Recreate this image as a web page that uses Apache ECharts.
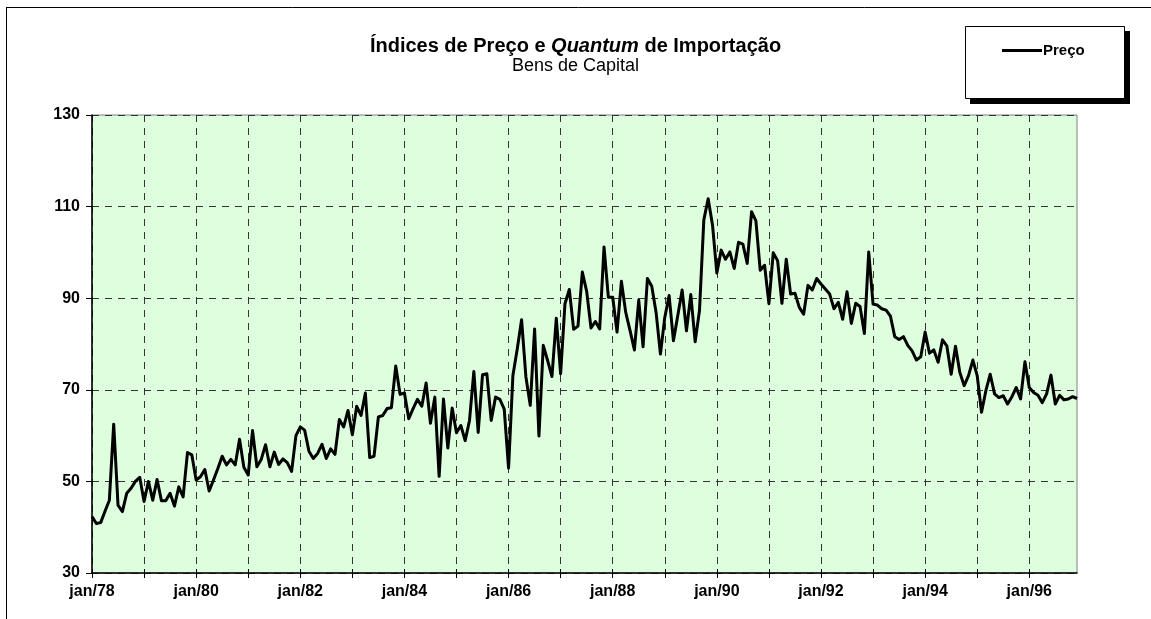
<!DOCTYPE html>
<html>
<head>
<meta charset="utf-8">
<script src="https://cdn.jsdelivr.net/npm/echarts@6/dist/echarts.min.js"></script>
<style>
  html, body { margin: 0; padding: 0; background: #fff; }
  #chart { width: 1151px; height: 619px; }
</style>
</head>
<body>
<div id="chart"></div>
<script>
// meses e anos do eixo x
var meses = ['jan', 'fev', 'mar', 'abr', 'mai', 'jun', 'jul', 'ago', 'set', 'out', 'nov', 'dez'];
var anos = ['78', '79', '80', '81', '82', '83', '84', '85', '86', '87', '88', '89', '90', '91', '92', '93', '94', '95', '96'];

// índice de preço, um vetor por ano (jan..dez)
var p1978 = [42.3, 40.8, 41.0, 43.5, 45.9, 62.5, 44.8, 43.4, 47.4, 48.5, 50.0, 50.9];
var p1979 = [45.6, 50.0, 45.9, 50.4, 45.8, 45.8, 47.4, 44.6, 48.8, 46.6, 56.3, 55.8];
var p1980 = [50.3, 51.0, 52.6, 47.9, 50.3, 52.8, 55.5, 53.6, 54.8, 53.6, 59.2, 53.1];
var p1981 = [51.4, 61.1, 53.2, 54.8, 58.0, 53.2, 56.4, 53.7, 54.9, 54.1, 52.2, 60.0];
var p1982 = [61.9, 61.2, 56.6, 55.0, 56.1, 58.1, 55.0, 57.1, 55.9, 63.5, 61.9, 65.5];
var p1983 = [60.2, 66.4, 64.4, 69.3, 55.2, 55.5, 64.1, 64.4, 65.9, 66.1, 75.2, 69.0];
var p1984 = [69.3, 63.7, 65.9, 67.9, 66.4, 71.5, 62.7, 68.4, 51.1, 68.0, 57.3, 66.0];
var p1985 = [60.6, 62.2, 58.9, 63.3, 74.0, 60.7, 73.3, 73.5, 63.3, 68.4, 67.9, 65.8];
var p1986 = [52.9, 73.1, 78.9, 85.3, 72.8, 66.6, 83.3, 59.9, 79.7, 76.4, 72.9, 85.6];
var p1987 = [73.5, 88.8, 91.9, 83.2, 83.9, 95.7, 91.5, 83.5, 84.9, 83.3, 101.2, 90.2];
var p1988 = [90.2, 82.6, 93.7, 86.9, 82.9, 78.7, 89.6, 79.4, 94.3, 92.6, 86.9, 77.8];
var p1989 = [85.8, 90.6, 80.7, 86.2, 91.8, 82.9, 90.8, 80.5, 87.3, 107.1, 111.7, 106.0];
var p1990 = [95.5, 100.5, 98.5, 100.1, 96.5, 102.2, 101.8, 97.6, 108.9, 106.9, 96.1, 97.2];
var p1991 = [88.8, 99.9, 98.2, 88.9, 98.5, 90.9, 91.1, 88.0, 86.5, 92.8, 91.8, 94.3];
var p1992 = [93.1, 92.0, 90.9, 87.7, 89.1, 85.4, 91.4, 84.5, 88.9, 88.2, 82.3, 100.1];
var p1993 = [88.7, 88.5, 87.7, 87.4, 86.1, 81.6, 81.0, 81.6, 79.7, 78.5, 76.5, 77.2];
var p1994 = [82.6, 78.0, 78.7, 76.0, 80.9, 79.6, 73.4, 79.5, 73.8, 70.9, 73.1, 76.5];
var p1995 = [73.1, 65.1, 69.8, 73.4, 69.1, 68.3, 68.7, 66.9, 68.5, 70.5, 68.0, 76.1];
var p1996 = [70.5, 69.4, 68.8, 67.2, 69.1, 73.2, 66.9, 68.8, 67.8, 68.0, 68.5, 68.1];

var yTicks = [30, 50, 70, 90, 110, 130];

var preco = [].concat(p1978, p1979, p1980, p1981, p1982, p1983, p1984, p1985, p1986,
    p1987, p1988, p1989, p1990, p1991, p1992, p1993, p1994, p1995, p1996);

var categorias = [];
for (var a = 0; a < anos.length; a++) {
    for (var m = 0; m < meses.length; m++) {
        categorias.push(meses[m] + '/' + anos[a]);
    }
}

var fonte = '"Liberation Sans", Arial, sans-serif';
var chart = echarts.init(document.getElementById('chart'));

var option = {
    backgroundColor: '#ffffff',
    animation: false,
    textStyle: { fontFamily: fonte, color: '#000' },
    title: {
        left: 'center',
        top: 31,
        itemGap: 1,
        text: '{b|Índices de Preço e }{bi|Quantum}{b| de Importação}',
        textStyle: {
            rich: {
                b: { fontFamily: fonte, fontSize: 20, fontWeight: 'bold', color: '#000' },
                bi: { fontFamily: fonte, fontSize: 20, fontWeight: 'bold', fontStyle: 'italic', color: '#000' }
            }
        },
        subtext: 'Bens de Capital',
        subtextStyle: { fontFamily: fonte, fontSize: 18, color: '#000' }
    },
    legend: {
        left: 997,
        top: 38,
        icon: 'rect',
        itemWidth: 40,
        itemHeight: 3,
        textStyle: { fontFamily: fonte, fontSize: 15, fontWeight: 'bold', color: '#000', padding: [0, 0, 0, -4] },
        data: ['Preço']
    },
    graphic: [
        // contorno da área do gráfico
        { type: 'line', shape: { x1: 6, y1: 7.5, x2: 1151, y2: 7.5 }, style: { stroke: '#000', lineWidth: 1 } },
        { type: 'line', shape: { x1: 6.5, y1: 7, x2: 6.5, y2: 619 }, style: { stroke: '#000', lineWidth: 1 } },
        // caixa da legenda com sombra
        { type: 'rect', z: -2, shape: { x: 970, y: 31, width: 160, height: 73 }, style: { fill: '#000' } },
        { type: 'rect', z: -1, shape: { x: 965.5, y: 26.5, width: 159, height: 72 },
          style: { fill: '#fff', stroke: '#000', lineWidth: 1 } }
    ],
    grid: {
        left: 92,
        right: 74,
        top: 115,
        bottom: 46,
        show: true,
        backgroundColor: '#ddffdd',
        borderColor: '#808080',
        borderWidth: 1
    },
    xAxis: [{
        type: 'category',
        boundaryGap: false,
        data: categorias,
        axisLine: { lineStyle: { color: '#000', width: 1.5 } },
        axisTick: { interval: 11, length: 5, lineStyle: { color: '#000' } },
        axisLabel: {
            interval: 23,
            margin: 11,
            fontFamily: fonte,
            fontSize: 16,
            fontWeight: 'bold',
            color: '#000'
        },
        splitLine: {
            show: true,
            interval: 11,
            lineStyle: { color: '#333', type: [7, 6], width: 1 }
        }
    }, {
        // marcas cruzadas: parte interna dos ticks
        type: 'category',
        position: 'bottom',
        boundaryGap: false,
        data: categorias,
        axisLine: { show: false },
        axisTick: { interval: 11, inside: true, length: 4, lineStyle: { color: '#000' } },
        axisLabel: { show: false },
        splitLine: { show: false }
    }],
    yAxis: {
        type: 'value',
        min: yTicks[0],
        max: yTicks[yTicks.length - 1],
        interval: 20,
        axisLine: { show: true, lineStyle: { color: '#000', width: 1.5 } },
        axisTick: { show: true, length: 6, lineStyle: { color: '#000' } },
        axisLabel: {
            margin: 12,
            fontFamily: fonte,
            fontSize: 16,
            fontWeight: 'bold',
            color: '#000'
        },
        splitLine: {
            show: true,
            lineStyle: { color: '#333', type: [7, 6], width: 1 }
        }
    },
    series: [{
        name: 'Preço',
        type: 'line',
        xAxisIndex: 0,
        data: preco,
        showSymbol: false,
        symbol: 'none',
        lineStyle: { color: '#000', width: 3, join: 'round' },
        itemStyle: { color: '#000' }
    }]
};

chart.setOption(option);
</script>
</body>
</html>
